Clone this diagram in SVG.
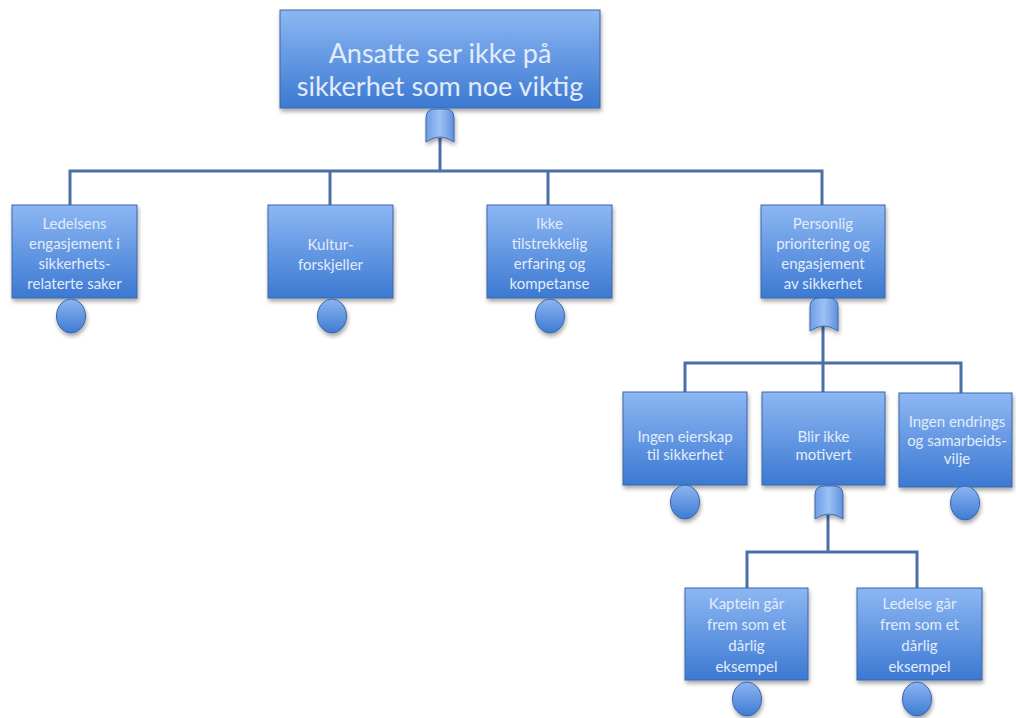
<svg xmlns="http://www.w3.org/2000/svg" width="1016" height="718" viewBox="0 0 1016 718">
  <defs>
    <linearGradient id="boxFill" x1="0" y1="0" x2="0" y2="1">
      <stop offset="0" stop-color="#8db7f3"/>
      <stop offset="1" stop-color="#3c79d2"/>
    </linearGradient>
    <linearGradient id="gateFill" x1="0" y1="0" x2="1" y2="0">
      <stop offset="0" stop-color="#6f9de6"/>
      <stop offset="0.5" stop-color="#9cc2f5"/>
      <stop offset="1" stop-color="#5f90de"/>
    </linearGradient>
    <linearGradient id="eventFill" x1="0" y1="0" x2="0" y2="1">
      <stop offset="0" stop-color="#8bb5f1"/>
      <stop offset="1" stop-color="#3e7bd3"/>
    </linearGradient>
    <filter id="shadow" x="-10%" y="-10%" width="125%" height="130%">
      <feGaussianBlur in="SourceAlpha" stdDeviation="2"/>
      <feOffset dx="1" dy="3" result="b"/>
      <feComponentTransfer><feFuncA type="linear" slope="0.35"/></feComponentTransfer>
      <feMerge><feMergeNode/><feMergeNode in="SourceGraphic"/></feMerge>
    </filter>
    <!-- AND-type gate: dome top, notched bottom, 28 wide -->
    <path id="gate" d="M0,9 Q0,0 9,0 L19,0 Q28,0 28,9 L28,33 Q14,23 0,33 Z"/>
    <ellipse id="event" cx="0" cy="0" rx="14.5" ry="17"/>
  </defs>
  <style>
    .box { fill: url(#boxFill); stroke: #3a66a8; stroke-width: 1; filter: url(#shadow); }
    .gate { fill: url(#gateFill); stroke: #3d68aa; stroke-width: 1; filter: url(#shadow); }
    .event { fill: url(#eventFill); stroke: #3a66a8; stroke-width: 1; filter: url(#shadow); }
    .wire { fill: none; stroke: #4a6ea8; stroke-width: 3; }
    .lbl { font-family: Lato, "Open Sans", sans-serif; fill: #e2ecfb; text-anchor: middle; }
    .big { font-size: 27px; }
    .small { font-size: 15px; }
  </style>

  <rect width="1016" height="718" fill="#ffffff"/>

  <g id="connectors">
    <path class="wire" d="M440,138 V171 M70,205 V171 H822 V205 M330,171 V205 M548,171 V205"/>
    <path class="wire" d="M823,326 V363 M685,392 V363 H961 V393 M823,363 V392"/>
    <path class="wire" d="M828,515 V552 M747,588 V552 H917 V588"/>
  </g>

  <g id="top">
    <rect class="box" x="280" y="10" width="320" height="98"/>
    <text class="lbl big"><tspan x="440" y="63">Ansatte ser ikke på</tspan><tspan x="440" y="96">sikkerhet som noe viktig</tspan></text>
    <use href="#gate" class="gate" x="426" y="109"/>
  </g>

  <g id="ledelsens">
    <rect class="box" x="12" y="205" width="125" height="93"/>
    <text class="lbl small"><tspan x="74.5" y="229">Ledelsens</tspan><tspan x="74.5" y="249">engasjement i</tspan><tspan x="74.5" y="269">sikkerhets-</tspan><tspan x="74.5" y="289">relaterte saker</tspan></text>
    <use href="#event" class="event" x="71" y="316"/>
  </g>

  <g id="kultur">
    <rect class="box" x="268" y="205" width="125" height="93"/>
    <text class="lbl small"><tspan x="330.5" y="250">Kultur-</tspan><tspan x="330.5" y="270">forskjeller</tspan></text>
    <use href="#event" class="event" x="332" y="316"/>
  </g>

  <g id="erfaring">
    <rect class="box" x="487" y="205" width="125" height="93"/>
    <text class="lbl small"><tspan x="549.5" y="229">Ikke</tspan><tspan x="549.5" y="249">tilstrekkelig</tspan><tspan x="549.5" y="269">erfaring og</tspan><tspan x="549.5" y="289">kompetanse</tspan></text>
    <use href="#event" class="event" x="550" y="316"/>
  </g>

  <g id="personlig">
    <rect class="box" x="761" y="205" width="124" height="93"/>
    <text class="lbl small"><tspan x="823" y="229">Personlig</tspan><tspan x="823" y="249">prioritering og</tspan><tspan x="823" y="269">engasjement</tspan><tspan x="823" y="289">av sikkerhet</tspan></text>
    <use href="#gate" class="gate" x="810" y="298"/>
  </g>

  <g id="eierskap">
    <rect class="box" x="623" y="392" width="124" height="93"/>
    <text class="lbl small"><tspan x="685" y="442">Ingen eierskap</tspan><tspan x="685" y="460">til sikkerhet</tspan></text>
    <use href="#event" class="event" x="685" y="502"/>
  </g>

  <g id="motivert">
    <rect class="box" x="762" y="392" width="123" height="93"/>
    <text class="lbl small"><tspan x="823.5" y="442">Blir ikke</tspan><tspan x="823.5" y="460">motivert</tspan></text>
    <use href="#gate" class="gate" x="815" y="486"/>
  </g>

  <g id="endrings">
    <rect class="box" x="899" y="393" width="113" height="94"/>
    <text class="lbl small"><tspan x="957" y="427">Ingen endrings</tspan><tspan x="957" y="446">og samarbeids-</tspan><tspan x="957" y="464">vilje</tspan></text>
    <use href="#event" class="event" x="965" y="503"/>
  </g>

  <g id="kaptein">
    <rect class="box" x="685" y="588" width="123" height="92"/>
    <text class="lbl small"><tspan x="746.5" y="609">Kaptein går</tspan><tspan x="746.5" y="630">frem som et</tspan><tspan x="746.5" y="651">dårlig</tspan><tspan x="746.5" y="672">eksempel</tspan></text>
    <use href="#event" class="event" x="747" y="699"/>
  </g>

  <g id="ledelse">
    <rect class="box" x="857" y="588" width="125" height="92"/>
    <text class="lbl small"><tspan x="919.5" y="609">Ledelse går</tspan><tspan x="919.5" y="630">frem som et</tspan><tspan x="919.5" y="651">dårlig</tspan><tspan x="919.5" y="672">eksempel</tspan></text>
    <use href="#event" class="event" x="917" y="699"/>
  </g>
</svg>
